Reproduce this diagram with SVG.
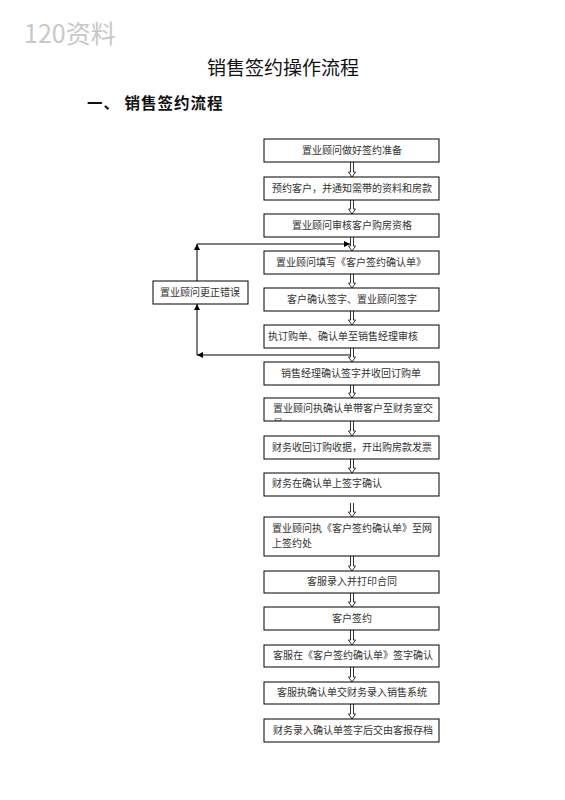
<svg xmlns="http://www.w3.org/2000/svg" width="565" height="800" viewBox="0 0 565 800">
<style>
.box{fill:#fff;stroke:#000;stroke-width:1}
.t{font-family:"Noto Sans CJK SC","Noto Sans CJK JP",sans-serif;font-size:10px;fill:#333}
.c{text-anchor:middle}
.arr{fill:#fff;stroke:#000;stroke-width:0.8}
.ln{fill:none;stroke:#000;stroke-width:1}
</style>
<defs>
<marker id="ah" viewBox="0 0 10 10" refX="10" refY="5" markerWidth="6" markerHeight="6" orient="auto" markerUnits="userSpaceOnUse">
<path d="M0 0L10 5L0 10z" fill="#000"/>
</marker>
<clipPath id="clip8"><rect x="264" y="398" width="175" height="23"/></clipPath>
</defs>
<rect width="565" height="800" fill="#fff"/>
<text x="24" y="43" font-family="'Noto Sans CJK SC',sans-serif" font-size="25" fill="#c8c8c8">120资料</text>
<text x="283" y="75" text-anchor="middle" font-family="'Noto Sans CJK SC',sans-serif" font-size="19" fill="#111">销售签约操作流程</text>
<text x="87" y="109" font-family="'Noto Sans CJK SC',sans-serif" font-size="15.5" font-weight="bold" fill="#111" letter-spacing="1">一、 销售签约流程</text>

<g id="connectors">
<path class="arr" d="M350.5 162V172H348.5L352 177L355.5 172H353.5V162"/>
<path class="arr" d="M350.5 200V209H348.5L352 214L355.5 209H353.5V200"/>
<path class="arr" d="M350.5 237V246H348.5L352 251L355.5 246H353.5V237"/>
<path class="arr" d="M350.5 274V283H348.5L352 288L355.5 283H353.5V274"/>
<path class="arr" d="M350.5 311V320H348.5L352 325L355.5 320H353.5V311"/>
<path class="arr" d="M350.5 348V357H348.5L352 362L355.5 357H353.5V348"/>
<path class="arr" d="M350.5 385V393H348.5L352 398L355.5 393H353.5V385"/>
<path class="arr" d="M350.5 421V431H348.5L352 436L355.5 431H353.5V421"/>
<path class="arr" d="M350.5 459V468H348.5L352 473L355.5 468H353.5V459"/>
<path class="arr" d="M350.5 503V512H348.5L352 517L355.5 512H353.5V503"/>
<path class="arr" d="M350.5 556V566H348.5L352 571L355.5 566H353.5V556"/>
<path class="arr" d="M350.5 593V602H348.5L352 607L355.5 602H353.5V593"/>
<path class="arr" d="M350.5 630V640H348.5L352 645L355.5 640H353.5V630"/>
<path class="arr" d="M350.5 667V677H348.5L352 682L355.5 677H353.5V667"/>
<path class="arr" d="M350.5 704V714H348.5L352 719L355.5 714H353.5V704"/>
<path class="ln" d="M197 281V244" marker-end="url(#ah)"/>
<path class="ln" d="M197 244H350" marker-end="url(#ah)"/>
<path class="ln" d="M350 355H197" marker-end="url(#ah)"/>
<path class="ln" d="M197 355V304" marker-end="url(#ah)"/>
</g>

<g id="n1"><rect class="box" x="264" y="139" width="175" height="23"/><text class="t c" x="352" y="154">置业顾问做好签约准备</text></g>
<g id="n2"><rect class="box" x="264" y="177" width="175" height="23"/><text class="t c" x="352" y="192">预约客户，并通知需带的资料和房款</text></g>
<g id="n3"><rect class="box" x="264" y="214" width="175" height="23"/><text class="t c" x="352" y="229">置业顾问审核客户购房资格</text></g>
<g id="n4"><rect class="box" x="264" y="251" width="175" height="23"/><text class="t c" x="351" y="266">置业顾问填写《客户签约确认单》</text></g>
<g id="n5"><rect class="box" x="264" y="288" width="175" height="23"/><text class="t c" x="352" y="303">客户确认签字、置业顾问签字</text></g>
<g id="n6"><rect class="box" x="264" y="325" width="175" height="23"/><text class="t" x="268" y="340">执订购单、确认单至销售经理审核</text></g>
<g id="n7"><rect class="box" x="264" y="362" width="175" height="23"/><text class="t c" x="351" y="377">销售经理确认签字并收回订购单</text></g>
<g id="n8"><rect class="box" x="264" y="398" width="175" height="23"/><g clip-path="url(#clip8)"><text class="t" x="273" y="412">置业顾问执确认单带客户至财务室交</text><text class="t" x="273" y="427">易</text></g></g>
<g id="n9"><rect class="box" x="264" y="436" width="175" height="23"/><text class="t" x="272" y="451">财务收回订购收据，开出购房款发票</text></g>
<g id="n10"><rect class="box" x="264" y="473" width="175" height="23"/><text class="t" x="272" y="487">财务在确认单上签字确认</text></g>
<g id="n11"><rect class="box" x="264" y="517" width="175" height="39"/><text class="t" x="272" y="532">置业顾问执《客户签约确认单》至网</text><text class="t" x="272" y="547">上签约处</text></g>
<g id="n12"><rect class="box" x="264" y="571" width="175" height="22"/><text class="t c" x="352" y="585">客服录入并打印合同</text></g>
<g id="n13"><rect class="box" x="264" y="607" width="175" height="23"/><text class="t c" x="352" y="622">客户签约</text></g>
<g id="n14"><rect class="box" x="264" y="645" width="175" height="22"/><text class="t" x="273" y="659">客服在《客户签约确认单》签字确认</text></g>
<g id="n15"><rect class="box" x="264" y="682" width="175" height="22"/><text class="t c" x="352" y="696">客服执确认单交财务录入销售系统</text></g>
<g id="n16"><rect class="box" x="264" y="719" width="175" height="23"/><text class="t" x="273" y="734">财务录入确认单签字后交由客报存档</text></g>
<g id="n17"><rect class="box" x="153" y="281" width="95" height="23"/><text class="t c" x="200" y="296">置业顾问更正错误</text></g>
</svg>
